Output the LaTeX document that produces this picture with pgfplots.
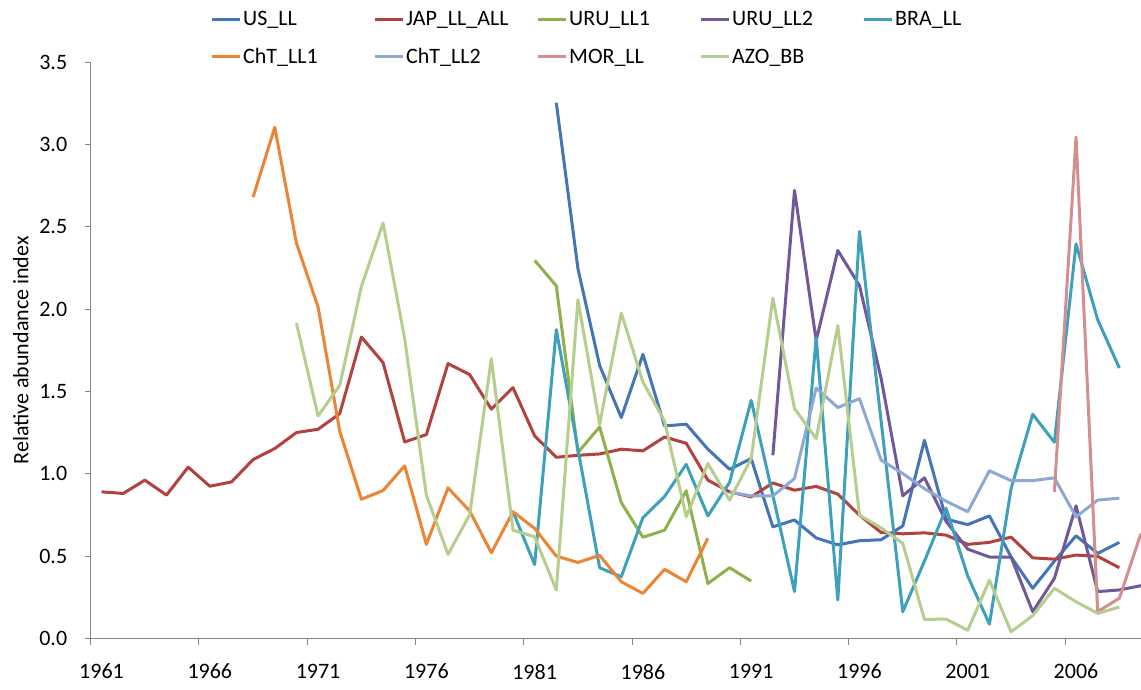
\documentclass[border=0pt]{standalone}
\usepackage{fontspec}
\setmainfont{Carlito}
\usepackage{pgfplots}
\pgfplotsset{compat=1.18}
\definecolor{axisgray}{HTML}{868686}
\definecolor{cUS}{HTML}{4575B5}
\definecolor{cJAP}{HTML}{B3413E}
\definecolor{cURUa}{HTML}{8FB04A}
\definecolor{cURUb}{HTML}{71589A}
\definecolor{cBRA}{HTML}{3FA0BB}
\definecolor{cChTa}{HTML}{EB8535}
\definecolor{cChTb}{HTML}{8DA8D4}
\definecolor{cMOR}{HTML}{D38F8D}
\definecolor{cAZO}{HTML}{B5CD8D}
\newcommand\fs{\fontsize{22bp}{26bp}\selectfont}
\begin{document}
\begin{tikzpicture}
\begin{axis}[
  scale only axis, width=1050.3bp, height=576.2bp,
  xmin=1960.5, xmax=2009, ymin=0, ymax=3.5,
  axis lines*=left,
  axis line style={draw=axisgray, line width=1bp},
  tick style={draw=axisgray, line width=1bp},
  tick align=outside,
  major tick length=6bp,
  xtick={1960.5,1965.5,1970.5,1975.5,1980.5,1985.5,1990.5,1995.5,2000.5,2005.5},
  xticklabels={},
  extra x ticks={1961,1966,1971,1976,1981,1986,1991,1996,2001,2006},
  extra x tick labels={1961,1966,1971,1976,1981,1986,1991,1996,2001,2006},
  extra x tick style={major tick length=0pt, xticklabel style={anchor=north, yshift=-22bp}},
  ytick={0,0.5,1,1.5,2,2.5,3,3.5},
  yticklabel style={anchor=east, xshift=-14bp, /pgf/number format/.cd, fixed, fixed zerofill, precision=1, assume math mode=true},
  tick label style={font=\fs},
  ylabel={Relative abundance index},
  every axis y label/.style={at={(axis description cs:-0.0666,0.5)}, rotate=90, anchor=center, font=\fs},
  no markers,
  every axis plot/.append style={line width=3bp, line join=round},
  legend columns=5,
  legend cell align=left,
  legend style={at={(axis description cs:0.1136,0.9913)}, anchor=south west, draw=none, fill=none, font=\fs, inner sep=0pt, row sep=17bp, /tikz/every even column/.append style={column sep=0pt}},
  legend image code/.code={\draw[#1, line width=3bp] (0bp,0bp) -- (28bp,0bp);},
]
\coordinate (LL) at (rel axis cs:0,0);
\coordinate (UR) at (rel axis cs:1,1);
\addplot[cUS] coordinates {(1982,3.254)(1983,2.246)(1984,1.659)(1985,1.342)(1986,1.726)(1987,1.291)(1988,1.302)(1989,1.150)(1990,1.028)(1991,1.093)(1992,0.678)(1993,0.720)(1994,0.611)(1995,0.569)(1996,0.594)(1997,0.600)(1998,0.684)(1999,1.204)(2000,0.725)(2001,0.692)(2002,0.745)(2003,0.496)(2004,0.305)(2005,0.470)(2006,0.624)(2007,0.517)(2008,0.584)};
\addlegendentry{\makebox[128bp][l]{US\_LL}}
\addplot[cJAP] coordinates {(1961,0.891)(1962,0.881)(1963,0.962)(1964,0.871)(1965,1.041)(1966,0.925)(1967,0.951)(1968,1.087)(1969,1.154)(1970,1.251)(1971,1.271)(1972,1.366)(1973,1.831)(1974,1.676)(1975,1.194)(1976,1.239)(1977,1.670)(1978,1.603)(1979,1.393)(1980,1.524)(1981,1.231)(1982,1.101)(1983,1.113)(1984,1.121)(1985,1.150)(1986,1.140)(1987,1.224)(1988,1.186)(1989,0.962)(1990,0.891)(1991,0.860)(1992,0.945)(1993,0.901)(1994,0.924)(1995,0.877)(1996,0.749)(1997,0.644)(1998,0.636)(1999,0.642)(2000,0.628)(2001,0.572)(2002,0.584)(2003,0.616)(2004,0.490)(2005,0.482)(2006,0.507)(2007,0.499)(2008,0.430)};
\addlegendentry{\makebox[128bp][l]{JAP\_LL\_ALL}}
\addplot[cURUa] coordinates {(1981,2.297)(1982,2.142)(1983,1.130)(1984,1.285)(1985,0.826)(1986,0.615)(1987,0.658)(1988,0.897)(1989,0.334)(1990,0.430)(1991,0.349)};
\addlegendentry{\makebox[128bp][l]{URU\_LL1}}
\addplot[cURUb] coordinates {(1992,1.113)(1993,2.722)(1994,1.81)(1995,2.357)(1996,2.144)(1997,1.58)(1998,0.867)(1999,0.976)(2000,0.711)(2001,0.543)(2002,0.495)(2003,0.495)(2004,0.163)(2005,0.365)(2006,0.806)(2007,0.285)(2008,0.295)(2009,0.321)};
\addlegendentry{\makebox[128bp][l]{URU\_LL2}}
\addplot[cBRA] coordinates {(1980,0.770)(1981,0.449)(1982,1.876)(1983,1.15)(1984,0.430)(1985,0.375)(1986,0.734)(1987,0.863)(1988,1.058)(1989,0.745)(1990,0.948)(1991,1.447)(1992,0.87)(1993,0.285)(1994,1.828)(1995,0.234)(1996,2.473)(1997,1.32)(1998,0.163)(1999,0.470)(2000,0.791)(2001,0.379)(2002,0.087)(2003,0.910)(2004,1.362)(2005,1.192)(2006,2.397)(2007,1.936)(2008,1.643)};
\addlegendentry{\makebox[128bp][l]{BRA\_LL}}
\addplot[cChTa] coordinates {(1968,2.681)(1969,3.105)(1970,2.402)(1971,2.013)(1972,1.259)(1973,0.846)(1974,0.899)(1975,1.049)(1976,0.572)(1977,0.915)(1978,0.775)(1979,0.521)(1980,0.770)(1981,0.669)(1982,0.501)(1983,0.462)(1984,0.505)(1985,0.345)(1986,0.274)(1987,0.420)(1988,0.345)(1989,0.610)};
\addlegendentry{\makebox[128bp][l]{ChT\_LL1}}
\addplot[cChTb] coordinates {(1990,0.890)(1991,0.866)(1992,0.866)(1993,0.972)(1994,1.522)(1995,1.403)(1996,1.457)(1997,1.083)(1998,1.002)(1999,0.910)(2000,0.834)(2001,0.770)(2002,1.019)(2003,0.959)(2004,0.959)(2005,0.976)(2006,0.739)(2007,0.841)(2008,0.852)};
\addlegendentry{\makebox[128bp][l]{ChT\_LL2}}
\addplot[cMOR] coordinates {(2005,0.890)(2006,3.046)(2007,0.163)(2008,0.245)(2009,0.638)};
\addlegendentry{\makebox[128bp][l]{MOR\_LL}}
\addplot[cAZO] coordinates {(1970,1.916)(1971,1.352)(1972,1.538)(1973,2.139)(1974,2.524)(1975,1.82)(1976,0.871)(1977,0.511)(1978,0.751)(1979,1.700)(1980,0.658)(1981,0.618)(1982,0.294)(1983,2.058)(1984,1.300)(1985,1.977)(1986,1.558)(1987,1.32)(1988,0.740)(1989,1.063)(1990,0.840)(1991,1.093)(1992,2.068)(1993,1.397)(1994,1.214)(1995,1.900)(1996,0.749)(1997,0.672)(1998,0.578)(1999,0.116)(2000,0.118)(2001,0.050)(2002,0.354)(2003,0.041)(2004,0.139)(2005,0.305)(2006,0.223)(2007,0.153)(2008,0.191)};
\addlegendentry{\makebox[128bp][l]{AZO\_BB}}
\end{axis}
\pgfresetboundingbox
\path[use as bounding box] ([shift={(-90.7bp,-50.5bp)}]LL) rectangle ([shift={(0bp,62.3bp)}]UR);
\end{tikzpicture}
\end{document}
